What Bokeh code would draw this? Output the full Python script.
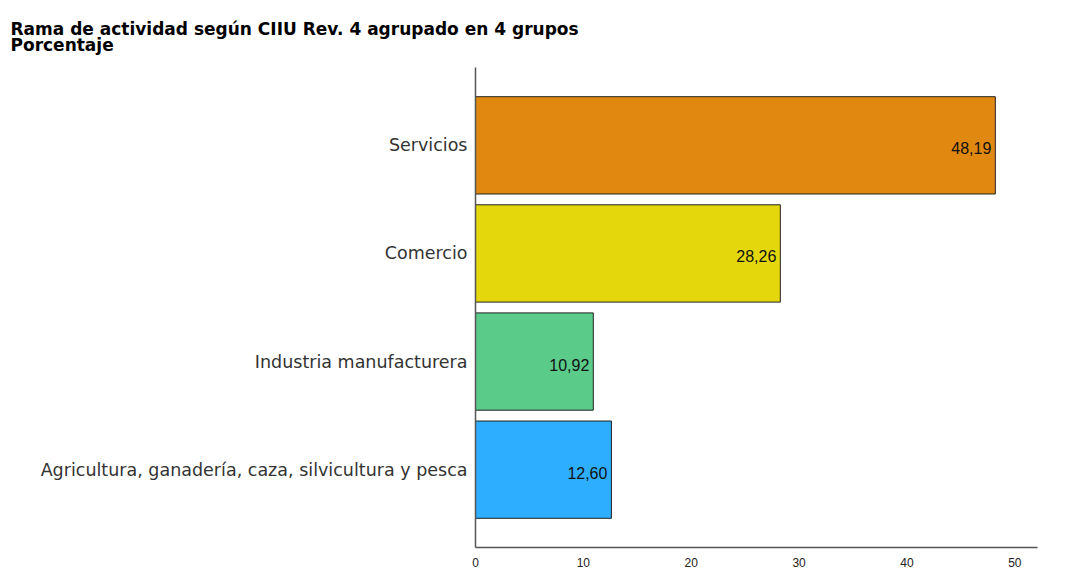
from bokeh.plotting import figure
from bokeh.models import Range1d, FactorRange, Title, ColumnDataSource, FixedTicker
from bokeh.core.properties import value
from bokeh.embed import file_html
from bokeh.resources import INLINE

categories = ["Agricultura, ganadería, caza, silvicultura y pesca",
              "Industria manufacturera", "Comercio", "Servicios"]
values = [12.60, 10.92, 28.26, 48.19]
colors = ["#2eaeff", "#5bcb8a", "#e4d80c", "#e0880f"]
labels = ["12,60", "10,92", "28,26", "48,19"]
x_ticks = [0, 10, 20, 30, 40, 50]
title_lines = ["Rama de actividad según CIIU Rev. 4 agrupado en 4 grupos", "Porcentaje"]

src = ColumnDataSource(dict(cat=categories, val=values, color=colors, lab=labels))

W, H = 1066, 569
p = figure(width=W, height=H, output_backend="svg", toolbar_location=None, title=None,
           y_range=FactorRange(factors=categories, range_padding=0.11),
           x_range=Range1d(0, 52.1),
           min_border_left=475, min_border_right=29, min_border_top=67, min_border_bottom=22)
p.hbar(y="cat", right="val", left=0, height=0.9, fill_color="color", line_color="#222222",
       line_width=1, source=src)
p.text(x="val", y="cat", text="lab", source=src, text_align="right", text_baseline="middle",
       x_offset=-4, y_offset=3, text_font_size="16px", text_color="#111111",
       text_font=value("Liberation Sans"))

p.xgrid.visible = False
p.ygrid.visible = False
p.outline_line_color = None
p.background_fill_color = "white"
p.border_fill_color = "white"

for ax in (p.xaxis[0], p.yaxis[0]):
    ax.axis_line_color = "#555555"
    ax.axis_line_width = 1.5
    ax.major_tick_line_color = None
    ax.minor_tick_line_color = None
    ax.major_label_text_color = "#222222"

p.xaxis.ticker = FixedTicker(ticks=x_ticks)
p.xaxis.major_label_text_font = "Liberation Sans"
p.xaxis.major_label_text_font_size = "12px"
p.xaxis.major_label_standoff = 4
p.yaxis.major_label_text_font = "DejaVu Sans"
p.yaxis.major_label_text_font_size = "17.5px"
p.yaxis.major_label_standoff = 2
p.yaxis.major_label_text_color = "#333333"

# Two-line title as one multi-line Title
p.add_layout(Title(text="\n".join(title_lines), align="left", offset=-465, standoff=25,
                   text_font="DejaVu Sans", text_font_style="bold", text_font_size="17px",
                   text_line_height=0.82, text_color="#000000"), "above")

open("out.html", "w").write(file_html(p, INLINE))
